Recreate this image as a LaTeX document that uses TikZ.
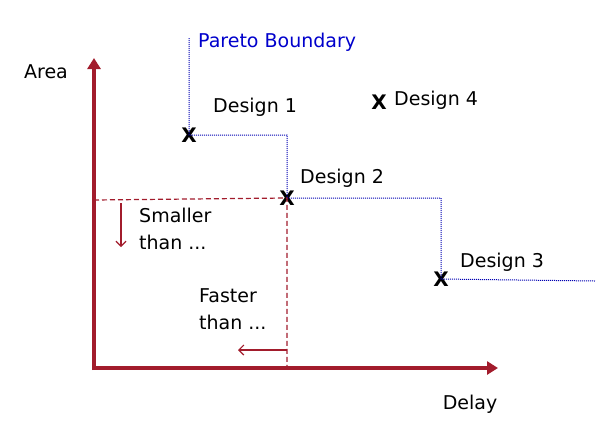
\documentclass[tikz,border=0pt]{standalone}
\usepackage{fontspec}
\setmainfont{DejaVu Sans}
\usetikzlibrary{arrows.meta}
\begin{document}
\begin{tikzpicture}[x=1pt,y=-1pt,
  axis/.style={draw=axred,line width=3.5pt,-{Triangle[length=11pt,width=13pt]}},
  pareto/.style={draw=blue!70!black,densely dotted,line width=1pt},
  guide/.style={draw=axred,dash pattern=on 5pt off 3pt,line width=1.2pt},
  small/.style={draw=axred,line width=1.2pt,-{Straight Barb[length=5pt]}},
  lbl/.style={font=\fontsize{19}{27}\selectfont,inner sep=0pt},
  xmark/.style={font=\fontsize{20}{22}\selectfont\bfseries,inner sep=0pt}]
\definecolor{axred}{HTML}{A21C2C}
\useasboundingbox (0,0) rectangle (602,440);
\coordinate (o) at (94,368);
\coordinate (ytop) at (94,58);
\coordinate (xend) at (498,368);
\draw[axis] (94,370) -- (ytop);
\draw[axis] (92,368) -- (xend);
\node[lbl] (area) at (46,72) {Area};
\node[lbl] (delay) at (470,404) {Delay};
\coordinate (p0) at (189,38);
\node[xmark] (d1) at (189,135) {X};
\node[xmark] (d2) at (287,198) {X};
\node[xmark] (d3) at (441,279) {X};
\node[xmark] (d4) at (379,102) {X};
\coordinate (pend) at (595,281);
\draw[pareto] (p0) -- (d1.center) -- (287,135) -- (d2.center) -- (441,198) -- (d3.center) -- (pend);
\node[lbl,text=blue!80!black,anchor=west] (pb) at (198,42) {Pareto Boundary};
\node[lbl,anchor=west] (n1) at (213,107) {Design 1};
\node[lbl,anchor=west] (n2) at (300,178) {Design 2};
\node[lbl,anchor=west] (n3) at (460,262) {Design 3};
\node[lbl,anchor=west] (n4) at (394,100) {Design 4};
\coordinate (h0) at (94,200);
\coordinate (vb) at (287,368);
\draw[guide] (h0) -- (d2.center) -- (vb);
\coordinate (a1) at (121,203);
\coordinate (a2) at (121,247);
\draw[small] (a1) -- (a2);
\node[lbl,align=left,anchor=north west] (sm) at (139,208) {Smaller\\than ...};
\node[lbl,align=left,anchor=north west] (fa) at (199,288) {Faster\\than ...};
\coordinate (b1) at (287,350);
\coordinate (b2) at (238,350);
\draw[small] (b1) -- (b2);
\end{tikzpicture}
\end{document}
